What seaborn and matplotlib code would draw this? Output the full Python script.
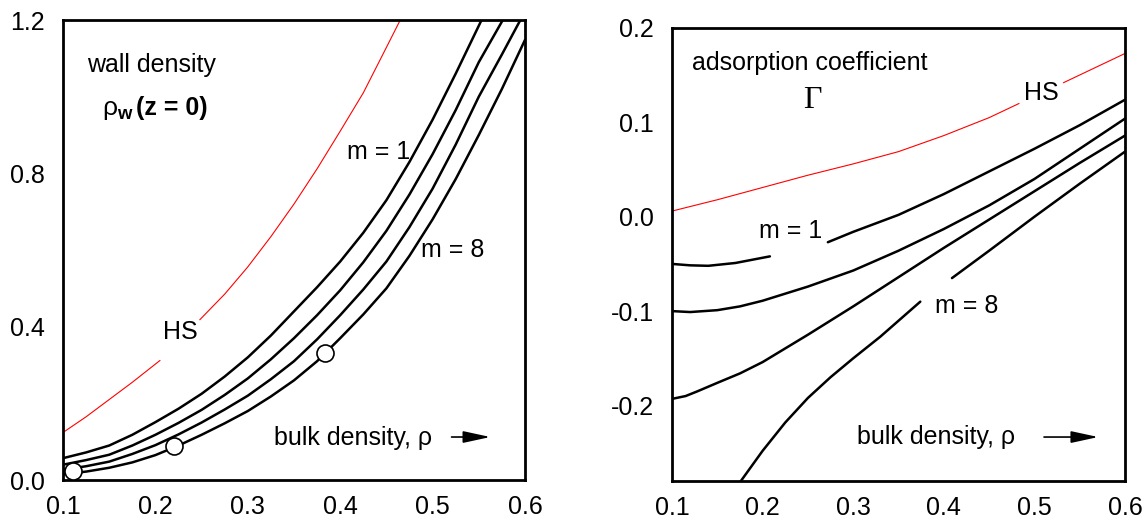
import numpy as np
import pandas as pd
import matplotlib
matplotlib.use('Agg')
import matplotlib.pyplot as plt
from matplotlib.ticker import MultipleLocator
import seaborn as sns

sns.set_theme(style='white')
plt.rcParams['font.family'] = ['Liberation Sans', 'DejaVu Sans']
plt.rcParams['text.color'] = 'black'
plt.rcParams['xtick.color'] = 'black'
plt.rcParams['ytick.color'] = 'black'
plt.rcParams['mathtext.fontset'] = 'custom'
plt.rcParams['mathtext.rm'] = 'Liberation Sans'
plt.rcParams['mathtext.bf'] = 'Liberation Sans:bold'
plt.rcParams['mathtext.default'] = 'regular'

FS = 18

# ---- left panel: wall density (NaN = gap for the label) ----
rho_l = [0.1, 0.125, 0.15, 0.175, 0.2, 0.225, 0.25, 0.275, 0.3, 0.325, 0.35,
         0.375, 0.4, 0.425, 0.45, 0.475, 0.5, 0.525, 0.55, 0.575, 0.6]
hs_l_x = [0.1, 0.125, 0.15, 0.175, 0.205, np.nan, 0.248, 0.275, 0.3, 0.325, 0.35,
          0.375, 0.4, 0.425, 0.444, 0.465]
hs_l_y = [0.124, 0.165, 0.21, 0.255, 0.312, np.nan, 0.418, 0.485, 0.556, 0.635, 0.72,
          0.812, 0.91, 1.01, 1.10, 1.2]
m1_l_x = rho_l[:18] + [0.553]
m1_l_y = [0.057, 0.072, 0.090, 0.118, 0.151, 0.186, 0.225, 0.270, 0.32, 0.377, 0.44,
          0.503, 0.57, 0.645, 0.73, 0.83, 0.94, 1.06, 1.2]
m2_l_x = rho_l[:19] + [0.576]
m2_l_y = [0.040, 0.052, 0.066, 0.090, 0.118, 0.149, 0.183, 0.222, 0.265, 0.315, 0.37,
          0.43, 0.495, 0.568, 0.65, 0.745, 0.85, 0.965, 1.09, 1.2]
m4_l_x = rho_l[:20] + [0.595]
m4_l_y = [0.027, 0.036, 0.048, 0.068, 0.091, 0.119, 0.150, 0.184, 0.22, 0.263, 0.31,
          0.367, 0.43, 0.497, 0.57, 0.66, 0.76, 0.875, 1.00, 1.11, 1.2]
m8_l_x = rho_l
m8_l_y = [0.015, 0.022, 0.032, 0.046, 0.065, 0.090, 0.118, 0.148, 0.18, 0.218, 0.26,
          0.31, 0.37, 0.432, 0.50, 0.585, 0.68, 0.785, 0.90, 1.02, 1.148]
sim_x = [0.111, 0.22, 0.384]
sim_y = [0.023, 0.089, 0.331]

# ---- right panel: adsorption coefficient ----
hs_r_x = [0.1, 0.15, 0.2, 0.25, 0.3, 0.35, 0.4, 0.45, 0.483, np.nan, 0.532, 0.6]
hs_r_y = [0.006, 0.018, 0.031, 0.044, 0.056, 0.069, 0.086, 0.105, 0.120, np.nan, 0.142, 0.173]
m1_r_x = [0.1, 0.12, 0.14, 0.17, 0.208, np.nan, 0.272, 0.3, 0.35, 0.4, 0.45, 0.5, 0.55, 0.6]
m1_r_y = [-0.050, -0.0515, -0.052, -0.049, -0.042, np.nan, -0.027, -0.016, 0.002, 0.024,
          0.048, 0.072, 0.097, 0.124]
m2_r_x = [0.1, 0.12, 0.15, 0.175, 0.2, 0.25, 0.3, 0.35, 0.4, 0.45, 0.5, 0.55, 0.6]
m2_r_y = [-0.100, -0.101, -0.099, -0.095, -0.089, -0.074, -0.057, -0.036, -0.013, 0.012,
          0.040, 0.072, 0.104]
m4_r_x = [0.1, 0.115, 0.128, 0.15, 0.175, 0.2, 0.25, 0.3, 0.35, 0.4, 0.45, 0.5, 0.55, 0.6]
m4_r_y = [-0.193, -0.190, -0.185, -0.176, -0.166, -0.154, -0.125, -0.095, -0.064, -0.033,
          -0.003, 0.027, 0.057, 0.086]
m8_r_x = [0.176, 0.2, 0.225, 0.25, 0.275, 0.3, 0.33, 0.374, np.nan, 0.409, 0.45, 0.5, 0.55, 0.6]
m8_r_y = [-0.28, -0.248, -0.218, -0.192, -0.170, -0.150, -0.127, -0.090, np.nan, -0.065,
          -0.036, 0.000, 0.035, 0.069]


def draw(ax, xs, ys, color='black', lw=1.8):
    df = pd.DataFrame({'x': xs, 'y': ys})
    df['seg'] = df['x'].isna().cumsum()
    for _, part in df.dropna().groupby('seg'):
        sns.lineplot(data=part, x='x', y='y', ax=ax, color=color, lw=lw,
                     sort=False, estimator=None)


def style(ax):
    for s in ax.spines.values():
        s.set_linewidth(2.0)
        s.set_color('black')
    ax.tick_params(which='both', direction='in', width=1.5,
                   labelsize=FS, top=False, right=False)
    ax.tick_params(which='major', length=12)
    ax.tick_params(which='minor', length=6.5)
    ax.tick_params(axis='y', pad=13)
    ax.tick_params(axis='x', pad=11)
    ax.set_xlabel('')
    ax.set_ylabel('')
    ax.set_xlim(0.1, 0.6)
    ax.xaxis.set_major_locator(MultipleLocator(0.1))
    ax.xaxis.set_major_formatter(plt.FormatStrFormatter('%.1f'))
    ax.yaxis.set_major_formatter(plt.FormatStrFormatter('%.1f'))


fig = plt.figure(figsize=(11.48, 5.31), dpi=100)
axl = fig.add_axes([0.0549, 0.0960, 0.4024, 0.8663])
axr = fig.add_axes([0.5854, 0.0942, 0.3946, 0.8531])

arrow = dict(arrowstyle='-|>,head_length=0.83,head_width=0.18',
             mutation_scale=20, color='black', lw=1.2)

# left
draw(axl, hs_l_x, hs_l_y, color='red', lw=0.8)
for xs, ys in [(m1_l_x, m1_l_y), (m2_l_x, m2_l_y), (m4_l_x, m4_l_y), (m8_l_x, m8_l_y)]:
    draw(axl, xs, ys)
sns.scatterplot(x=sim_x, y=sim_y, ax=axl, s=150, color='white',
                edgecolor='black', linewidth=1.2, zorder=5, clip_on=False)
style(axl)
axl.set_ylim(0, 1.2)
axl.yaxis.set_major_locator(MultipleLocator(0.4))
axl.yaxis.set_minor_locator(MultipleLocator(0.1))
axl.xaxis.set_minor_locator(MultipleLocator(0.05))
axl.text(0.126, 1.083, 'wall density', fontsize=FS, va='center')
axl.text(0.142, 0.952, r'$\rho_{\mathbf{w}}$', fontsize=FS + 1, va='baseline')
axl.text(0.179, 0.952, '(z = 0)', fontsize=FS, va='baseline', fontweight='bold')
axl.text(0.407, 0.856, 'm = 1', fontsize=FS, va='center')
axl.text(0.487, 0.600, 'm = 8', fontsize=FS, va='center')
axl.text(0.208, 0.386, 'HS', fontsize=FS, va='center')
axl.text(0.328, 0.091, 'bulk density, ρ', fontsize=FS, va='baseline')
axl.annotate('', xy=(0.931, 0.0935), xytext=(0.835, 0.0935), xycoords='axes fraction',
             arrowprops=arrow)

# right
draw(axr, hs_r_x, hs_r_y, color='red', lw=0.8)
for xs, ys in [(m1_r_x, m1_r_y), (m2_r_x, m2_r_y), (m4_r_x, m4_r_y), (m8_r_x, m8_r_y)]:
    draw(axr, xs, ys)
style(axr)
axr.set_ylim(-0.28, 0.2)
axr.yaxis.set_major_locator(MultipleLocator(0.1))
axr.yaxis.set_minor_locator(MultipleLocator(0.05))
axr.text(0.122, 0.156, 'adsorption coefficient', fontsize=FS, va='baseline')
axr.text(0.245, 0.115, 'Γ', fontsize=23, va='baseline', family='Liberation Serif')
axr.text(0.489, 0.124, 'HS', fontsize=FS, va='baseline')
axr.text(0.196, -0.023, 'm = 1', fontsize=FS, va='baseline')
axr.text(0.390, -0.102, 'm = 8', fontsize=FS, va='baseline')
axr.text(0.304, -0.241, 'bulk density, ρ', fontsize=FS, va='baseline')
axr.annotate('', xy=(0.947, 0.097), xytext=(0.815, 0.097), xycoords='axes fraction',
             arrowprops=arrow)

fig.savefig('out.png', dpi=100)
